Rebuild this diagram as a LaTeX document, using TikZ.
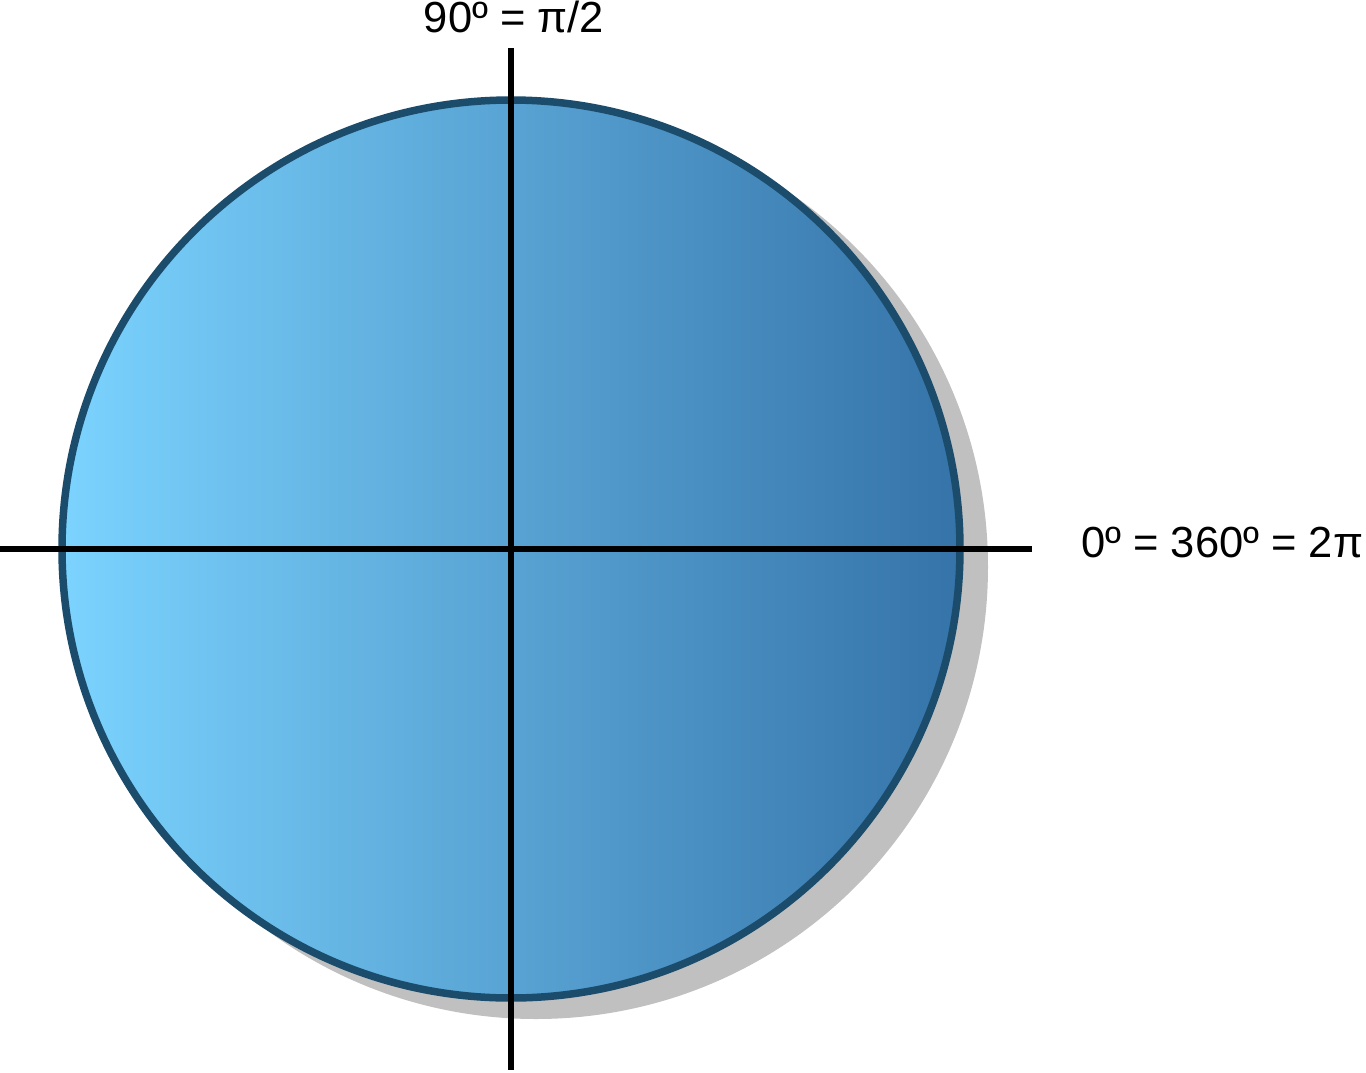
\documentclass[tikz,border=0pt]{standalone}
\usepackage{fontspec}
\setmainfont{Liberation Sans}
\definecolor{lightblue}{HTML}{7BD3FE}
\definecolor{darkblue}{HTML}{3573A8}
\definecolor{rimblue}{HTML}{1B4C6B}
\definecolor{shadowgray}{HTML}{C0C0C0}
\begin{document}
\begin{tikzpicture}[x=1pt,y=-1pt,
  axis/.style={line width=5.5pt,black},
  lbl/.style={font=\fontsize{43.5}{48}\selectfont,inner sep=0pt}]
\useasboundingbox (0,0) rectangle (1366,1072);
\coordinate (c) at (511,549);
\fill[shadowgray] (536,567) circle (452);
\shade[left color=lightblue,right color=darkblue,draw=rimblue,line width=7.5pt] (c) circle (449);
\coordinate (top) at (511,48);
\coordinate (bot) at (511,1070);
\coordinate (lft) at (0,549);
\coordinate (rgt) at (1032,549);
\draw[axis] (top) -- (bot);
\draw[axis] (lft) -- (rgt);
\node[lbl,anchor=base] (t90) at (514,32) {90º = π/2};
\node[lbl,anchor=base west] (t0) at (1081,557) {0º = 360º = 2π};
\end{tikzpicture}
\end{document}
